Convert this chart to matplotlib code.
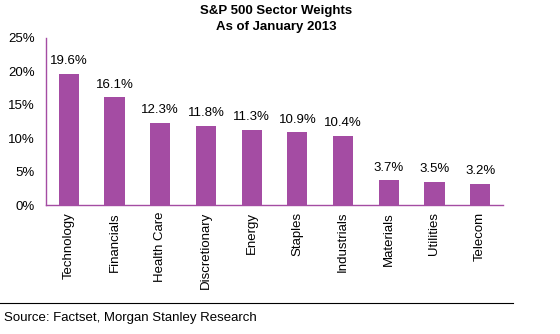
import matplotlib.pyplot as plt
from matplotlib.ticker import FuncFormatter

plt.rcParams['font.family'] = ['Liberation Sans', 'DejaVu Sans']

sectors = ["Technology", "Financials", "Health Care", "Discretionary", "Energy",
           "Staples", "Industrials", "Materials", "Utilities", "Telecom"]
weights = [19.6, 16.1, 12.3, 11.8, 11.3, 10.9, 10.4, 3.7, 3.5, 3.2]

bar_color = "#A44CA3"

fig = plt.figure(figsize=(5.6, 3.34), dpi=100)
ax = fig.add_axes([46/560, 1 - 205/334, (503-46)/560, (205-38)/334])

x = range(len(sectors))
ax.bar(x, weights, width=0.44, color=bar_color)
for i, v in enumerate(weights):
    ax.text(i, v + 1.0, f"{v:.1f}%", ha="center", va="bottom", fontsize=9.5)

ax.set_xlim(-0.5, len(sectors) - 0.5)
ax.set_ylim(0, 25)
ax.set_yticks([0, 5, 10, 15, 20, 25])
ax.yaxis.set_major_formatter(FuncFormatter(lambda v, p: f"{v:.0f}%"))
ax.set_xticks(list(x))
ax.set_xticklabels(sectors, rotation=90)
ax.tick_params(axis="both", length=0, labelsize=9.5)
ax.tick_params(axis="y", pad=8)
ax.tick_params(axis="x", pad=5)

for s in ["top", "right"]:
    ax.spines[s].set_visible(False)
for s in ["left", "bottom"]:
    ax.spines[s].set_color(bar_color)
    ax.spines[s].set_linewidth(1)

fig.text(276/560, 1 - 19/334, "S&P 500 Sector Weights\nAs of January 2013",
         ha="center", va="center", fontsize=9.5, fontweight="bold", linespacing=1.35)

fig.add_artist(plt.Line2D([0, 513/560], [1 - 303/334, 1 - 303/334],
                          color="black", linewidth=0.8, transform=fig.transFigure))
fig.text(4/560, 1 - 318/334, "Source: Factset, Morgan Stanley Research",
         ha="left", va="center", fontsize=9.5)

fig.savefig("out.png", dpi=100)
